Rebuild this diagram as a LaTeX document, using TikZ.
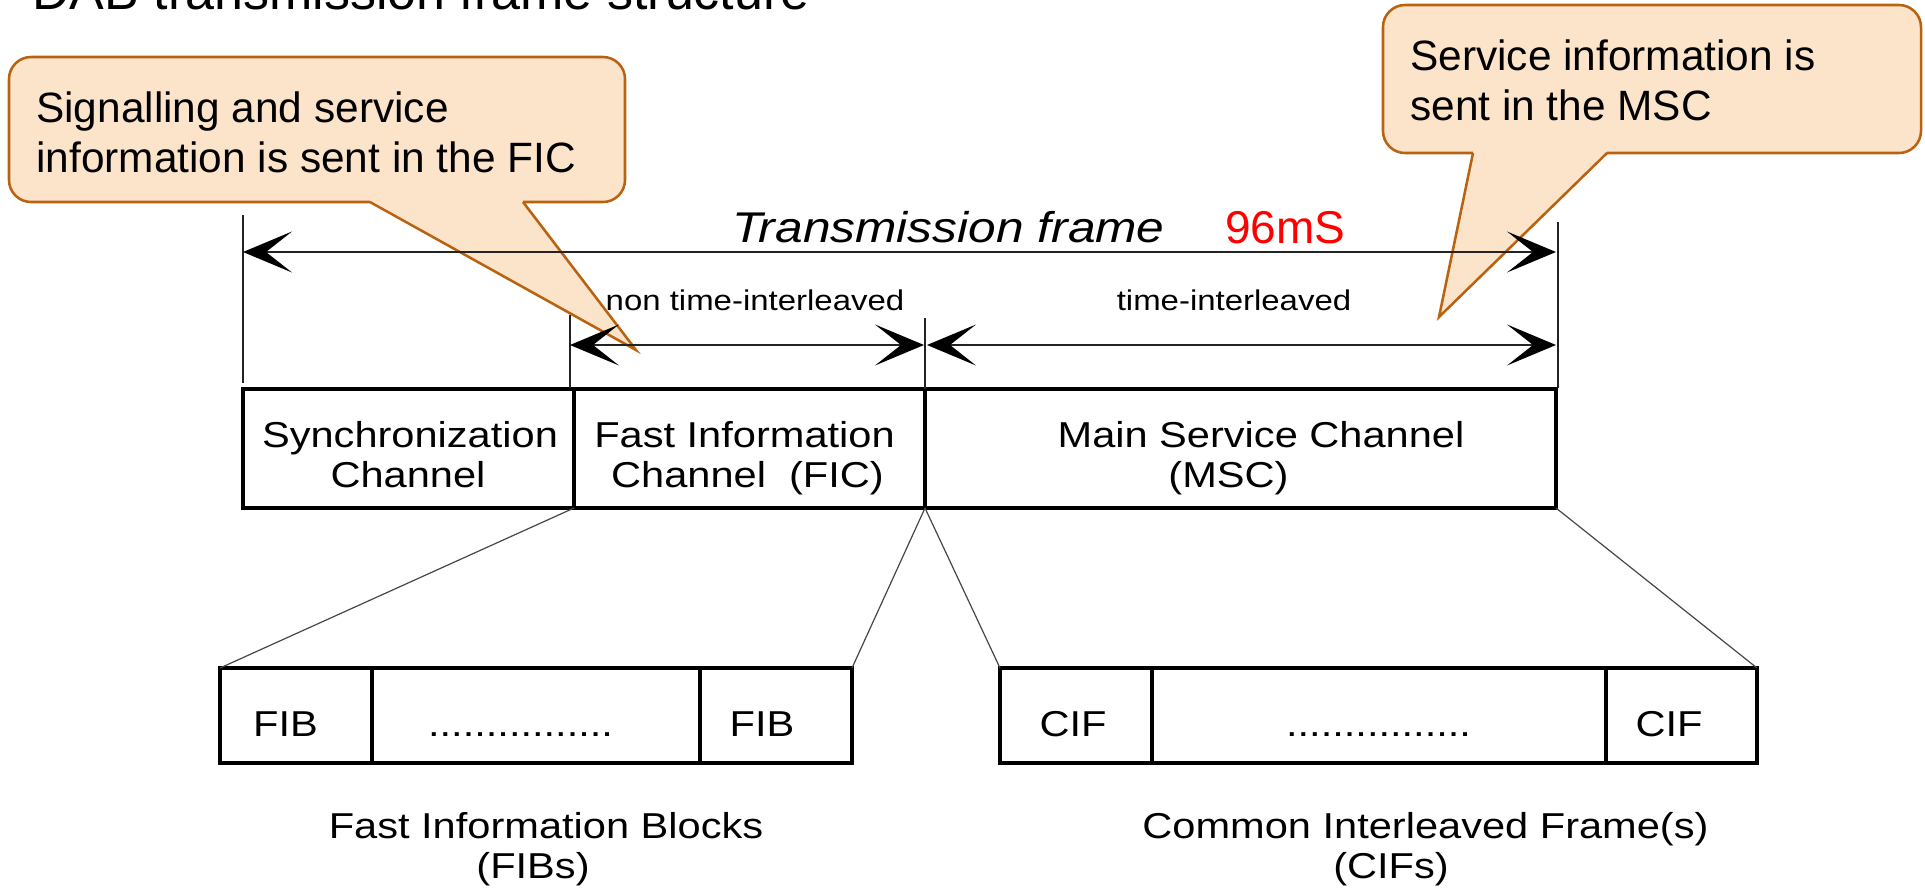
\documentclass[tikz,border=0pt]{standalone}
\usepackage{fontspec}
\setmainfont{Liberation Sans}
\usepackage{graphicx}
\usetikzlibrary{arrows.meta}
\definecolor{noteFill}{RGB}{251,228,202}
\definecolor{noteEdge}{RGB}{185,98,15}
\definecolor{dimGray}{RGB}{35,35,35}
\definecolor{fanGray}{RGB}{70,70,70}
% diagram lettering is set a little wider than the plain face
\newcommand\wide[1]{\scalebox{1.155}[1]{#1}}
\begin{document}
\begin{tikzpicture}[x=0.75pt, y=-0.75pt,
  >={Stealth[length=36.75pt,width=30.75pt,inset=19.5pt,color=black]},
  box/.style={draw=black, line width=2.5pt, inner sep=0pt, outer sep=0pt},
  dimline/.style={draw=dimGray, line width=1.1pt},
  tick/.style={draw=dimGray, line width=1.1pt},
  fan/.style={draw=fanGray, line width=0.9pt},
  lbl/.style={inner sep=0pt, anchor=base, font=\fontsize{27pt}{32pt}\selectfont},
  small/.style={inner sep=0pt, anchor=base, font=\fontsize{21.4pt}{25pt}\selectfont},
  notetext/.style={inner sep=0pt, anchor=base west, font=\fontsize{31.8pt}{37.5pt}\selectfont},
  notefill/.style={fill=noteFill, draw=none},
  noteline/.style={draw=noteEdge, line width=1.9pt, line join=miter}]

\useasboundingbox (0,0) rectangle (1925,893);
\clip (0,0) rectangle (1925,893);

% heading, running off the top edge
\node[inner sep=0pt, anchor=base west, font=\fontsize{39pt}{46pt}\selectfont] (heading) at (32,9) {DAB transmission frame structure};

% ---- callout: FIC ----
\fill[notefill, rounded corners=16.5pt] (9,57) rectangle (625,202);
\fill[notefill] (370,200) -- (636,350) -- (523,200) -- cycle;
\draw[noteline, rounded corners=16.5pt] (523,202) -- (625,202) -- (625,57) -- (9,57) -- (9,202) -- (370,202);
\draw[noteline] (370,202) -- (636,350) -- (523,202);
\node[notetext] (ficnoteA) at (36,122) {Signalling and service};
\node[notetext] (ficnoteB) at (36,172) {information is sent in the FIC};

% ---- callout: MSC ----
\fill[notefill, rounded corners=16.5pt] (1383,5) rectangle (1921,153);
\fill[notefill] (1473,151) -- (1439,317) -- (1607,151) -- cycle;
\draw[noteline, rounded corners=16.5pt] (1473,153) -- (1383,153) -- (1383,5) -- (1921,5) -- (1921,153) -- (1607,153);
\draw[noteline] (1473,153) -- (1439,317) -- (1607,153);
\node[notetext] (mscnoteA) at (1410,70) {Service information is};
\node[notetext] (mscnoteB) at (1410,120) {sent in the MSC};

% ---- frame boxes ----
\node[box, minimum width=248.25pt, minimum height=89.25pt] (sync) at (408.5,448.5) {};
\node[box, minimum width=263.25pt, minimum height=89.25pt] (fic) at (749.5,448.5) {};
\node[box, minimum width=473.25pt, minimum height=89.25pt] (msc) at (1240.5,448.5) {};

\node[lbl] (syncA) at (410,447) {\wide{Synchronization}};
\node[lbl] (syncB) at (408,487) {\wide{Channel}};
\node[lbl] (ficA) at (744.5,447) {\wide{Fast Information}};
\node[lbl] (ficB) at (747.5,487) {\wide{Channel~~(FIC)}};
\node[lbl] (mscA) at (1261,447) {\wide{Main Service Channel}};
\node[lbl] (mscB) at (1228.5,487) {\wide{(MSC)}};

% ---- dimension lines ----
\coordinate (frameTopL) at (243,215);
\coordinate (frameBotL) at (243,383);
\coordinate (frameTopR) at (1558,222);
\coordinate (frameBotR) at (1558,388);
\coordinate (frameArrL) at (243,252);
\coordinate (frameArrR) at (1556,252);
\draw[tick] (frameTopL) -- (frameBotL);
\draw[tick] (frameTopR) -- (frameBotR);
\draw[dimline, <->] (frameArrL) -- (frameArrR);

\coordinate (nonTop) at (570,315);
\coordinate (nonBot) at (570,388);
\coordinate (midTop) at (925,318);
\coordinate (midBot) at (925,389);
\coordinate (nonArrL) at (570,345);
\coordinate (nonArrR) at (924,345);
\coordinate (tiArrL) at (927,345);
\coordinate (tiArrR) at (1556,345);
\draw[tick] (nonTop) -- (nonBot);
\draw[tick] (midTop) -- (midBot);
\draw[dimline, <->] (nonArrL) -- (nonArrR);
\draw[dimline, <->] (tiArrL) -- (tiArrR);

\node[inner sep=0pt, anchor=base, font=\fontsize{32.25pt}{38pt}\selectfont\itshape] (frameLbl) at (948.5,242) {\wide{Transmission frame}};
\node[inner sep=0pt, anchor=base west, font=\fontsize{34.5pt}{40pt}\selectfont, text=red] (duration) at (1225,243) {96mS};
\node[small] (nonLbl) at (755,310) {\wide{non time-interleaved}};
\node[small] (tiLbl) at (1234,310) {\wide{time-interleaved}};

% ---- FIB row ----
\node[box, minimum width=114pt, minimum height=71.25pt] (fibA) at (296,715.5) {};
\node[box, minimum width=246pt, minimum height=71.25pt] (fibDots) at (536,715.5) {};
\node[box, minimum width=114pt, minimum height=71.25pt] (fibB) at (776,715.5) {};
\node[lbl] (fibAtxt) at (285.5,736) {\wide{FIB}};
\node[lbl] (fibDtxt) at (520.5,736) {\wide{................}};
\node[lbl] (fibBtxt) at (762,736) {\wide{FIB}};

% ---- CIF row ----
\node[box, minimum width=114pt, minimum height=71.25pt] (cifA) at (1076,715.5) {};
\node[box, minimum width=340.5pt, minimum height=71.25pt] (cifDots) at (1379,715.5) {};
\node[box, minimum width=113.25pt, minimum height=71.25pt] (cifB) at (1681.5,715.5) {};
\node[lbl] (cifAtxt) at (1073,736) {\wide{CIF}};
\node[lbl] (cifDtxt) at (1378.5,736) {\wide{................}};
\node[lbl] (cifBtxt) at (1669,736) {\wide{CIF}};

% ---- expansion lines ----
\draw[fan] (fic.south west) -- (fibA.north west);
\draw[fan] (fic.south east) -- (fibB.north east);
\draw[fan] (msc.south west) -- (cifA.north west);
\draw[fan] (msc.south east) -- (cifB.north east);

% ---- captions ----
\node[lbl] (fibCapA) at (546,838) {\wide{Fast Information Blocks}};
\node[lbl] (fibCapB) at (533,878) {\wide{(FIBs)}};
\node[lbl] (cifCapA) at (1425.5,838) {\wide{Common Interleaved Frame(s)}};
\node[lbl] (cifCapB) at (1391,878) {\wide{(CIFs)}};
\end{tikzpicture}
\end{document}
